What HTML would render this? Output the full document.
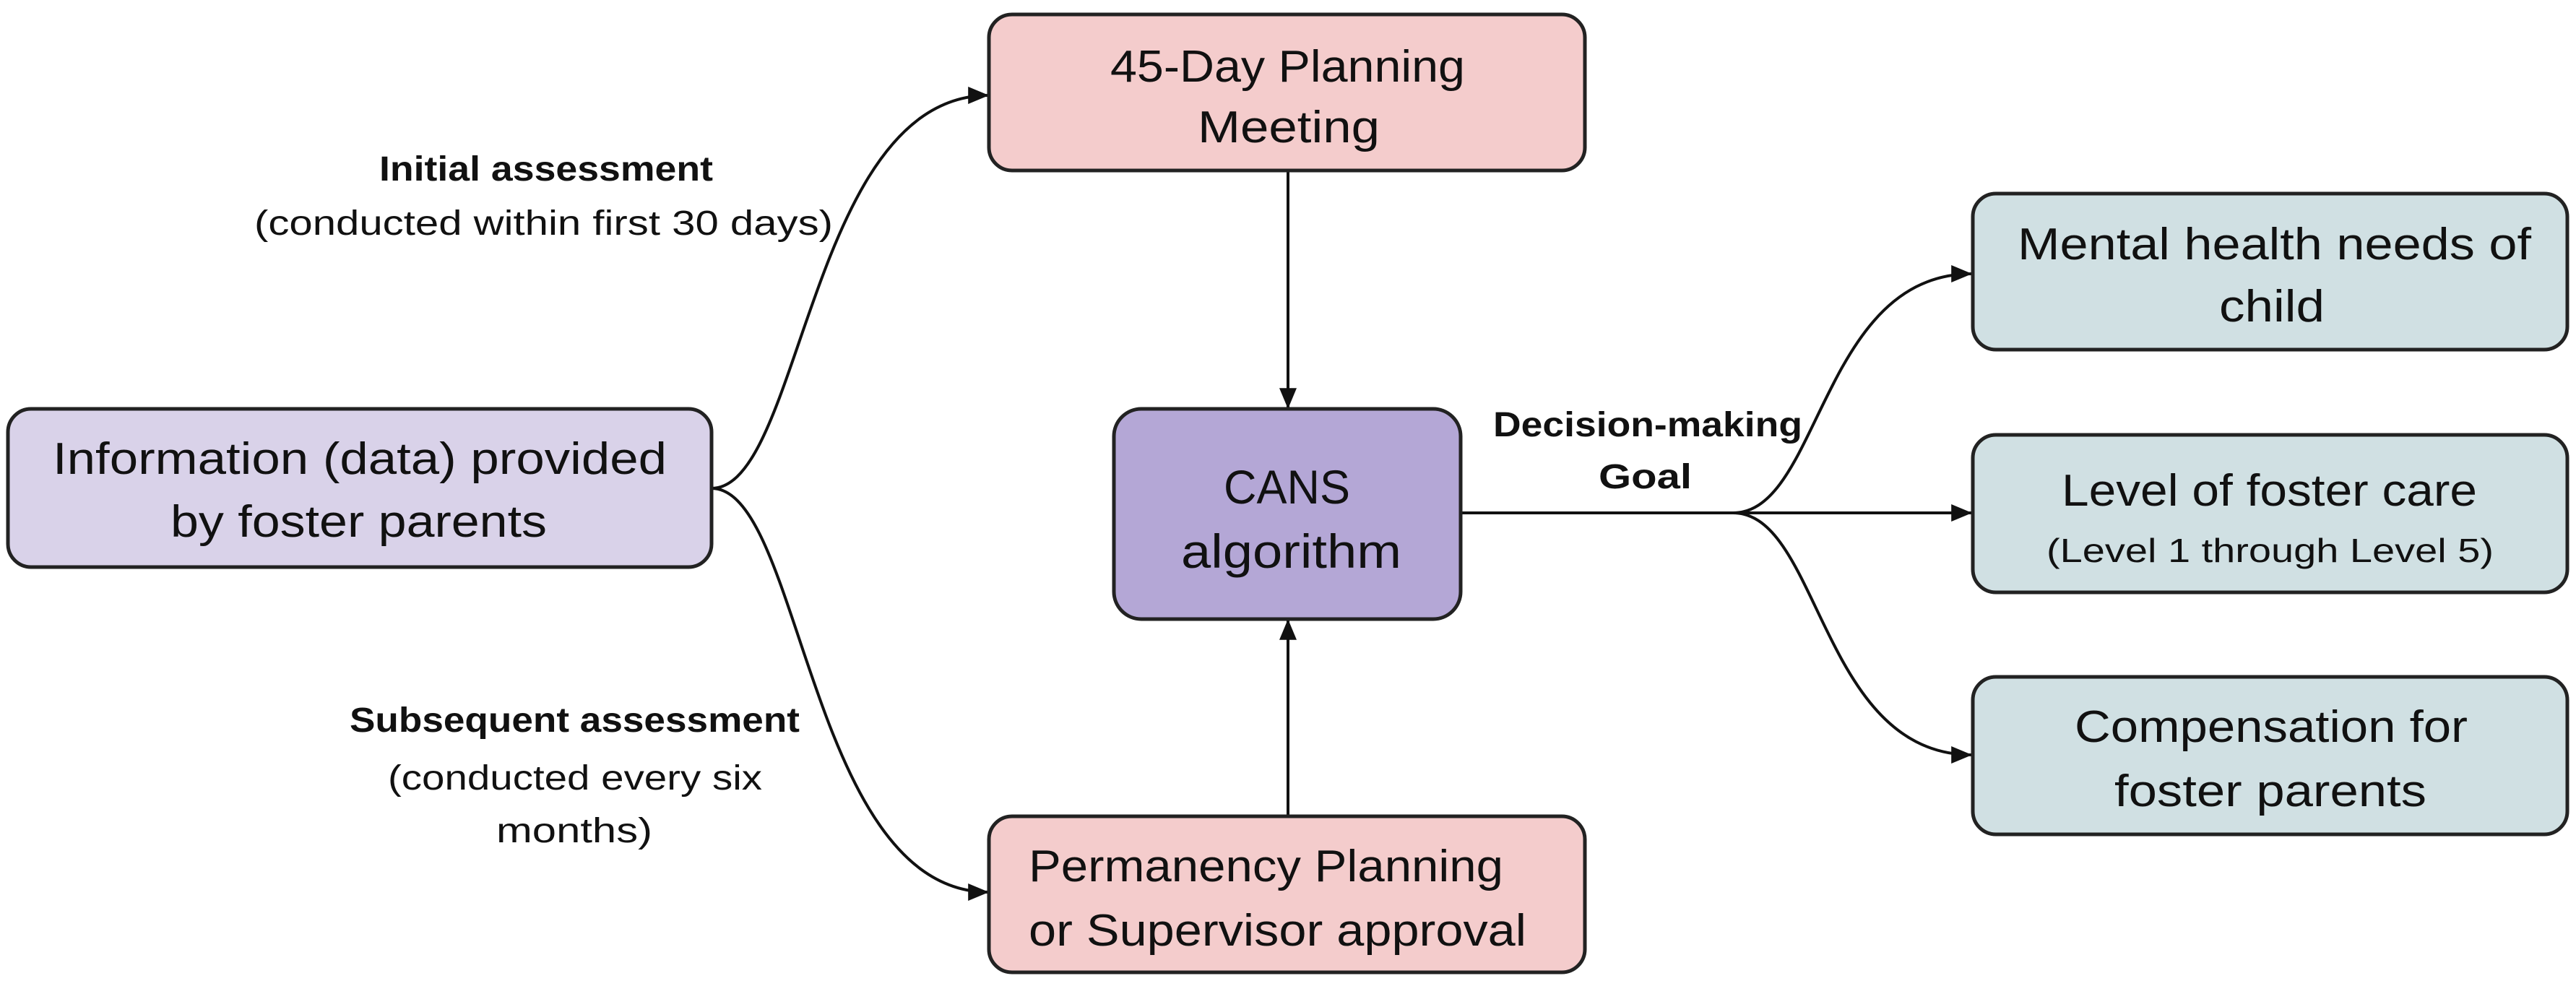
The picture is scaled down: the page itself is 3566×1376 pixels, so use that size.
<!DOCTYPE html>
<html><head><meta charset="utf-8"><style>
html,body{margin:0;padding:0;background:#fff;}
svg{display:block;}
text{font-family:"Liberation Sans",sans-serif;fill:#111;}
.b{font-weight:bold;}
</style></head><body>
<svg width="3566" height="1376" viewBox="0 0 3566 1376" xmlns="http://www.w3.org/2000/svg">
<defs>
<marker id="ar" markerWidth="10" markerHeight="10" refX="9" refY="5" orient="auto" markerUnits="userSpaceOnUse" viewBox="0 0 10 10">
</marker>
<marker id="a" viewBox="0 0 24 20" refX="24" refY="10" markerWidth="30" markerHeight="24" orient="auto" markerUnits="userSpaceOnUse">
<path d="M0,0 L24,10 L0,20 z" fill="#111"/>
</marker>
</defs>
<g fill="none" stroke="#111" stroke-width="4">
<path d="M985,676 C1110,676 1120,132 1369,132" marker-end="url(#a)"/>
<path d="M985,676 C1110,676 1120,1235 1369,1235" marker-end="url(#a)"/>
<path d="M1783,236 L1783,566" marker-end="url(#a)"/>
<path d="M1783,1130 L1783,857" marker-end="url(#a)"/>
<path d="M2022,710 L2730,710" marker-end="url(#a)"/>
<path d="M2399,710 C2520,710 2520,379 2730,379" marker-end="url(#a)"/>
<path d="M2399,710 C2520,710 2520,1045 2730,1045" marker-end="url(#a)"/>
</g>
<g stroke="#222" stroke-width="5">
<rect x="1369" y="20" width="825" height="216" rx="32" fill="#f4cccc"/>
<rect x="11" y="566" width="974" height="219" rx="32" fill="#d9d2e9"/>
<rect x="1542" y="566" width="480" height="291" rx="38" fill="#b4a7d6"/>
<rect x="1369" y="1130" width="825" height="216" rx="32" fill="#f4cccc"/>
<rect x="2731" y="268" width="823" height="216" rx="32" fill="#d0e0e3"/>
<rect x="2731" y="602" width="823" height="218" rx="32" fill="#d0e0e3"/>
<rect x="2731" y="937" width="823" height="218" rx="32" fill="#d0e0e3"/>
</g>
<g font-size="62" lengthAdjust="spacingAndGlyphs">
<text x="1537" y="113" textLength="491" lengthAdjust="spacingAndGlyphs">45-Day Planning</text>
<text x="1658" y="197" textLength="252" lengthAdjust="spacingAndGlyphs">Meeting</text>
<text x="73" y="656" textLength="850" lengthAdjust="spacingAndGlyphs">Information (data) provided</text>
<text x="236" y="743" textLength="521" lengthAdjust="spacingAndGlyphs">by foster parents</text>
<text x="1694" y="697" font-size="66" textLength="175" lengthAdjust="spacingAndGlyphs">CANS</text>
<text x="1635" y="786" font-size="66" textLength="305" lengthAdjust="spacingAndGlyphs">algorithm</text>
<text x="1424" y="1220" textLength="657" lengthAdjust="spacingAndGlyphs">Permanency Planning</text>
<text x="1424" y="1309" textLength="689" lengthAdjust="spacingAndGlyphs">or Supervisor approval</text>
<text x="2793" y="359" textLength="711" lengthAdjust="spacingAndGlyphs">Mental health needs of</text>
<text x="3072" y="445" textLength="146" lengthAdjust="spacingAndGlyphs">child</text>
<text x="2854" y="700" textLength="575" lengthAdjust="spacingAndGlyphs">Level of foster care</text>
<text x="2833" y="778" font-size="46" textLength="619" lengthAdjust="spacingAndGlyphs">(Level 1 through Level 5)</text>
<text x="2872" y="1027" textLength="544" lengthAdjust="spacingAndGlyphs">Compensation for</text>
<text x="2927" y="1116" textLength="432" lengthAdjust="spacingAndGlyphs">foster parents</text>
</g>
<g font-size="48">
<text class="b" x="525" y="250" textLength="462" lengthAdjust="spacingAndGlyphs">Initial assessment</text>
<text x="352" y="325" textLength="801" lengthAdjust="spacingAndGlyphs">(conducted within first 30 days)</text>
<text class="b" x="484" y="1013" textLength="623" lengthAdjust="spacingAndGlyphs">Subsequent assessment</text>
<text x="537" y="1093" textLength="518" lengthAdjust="spacingAndGlyphs">(conducted every six</text>
<text x="687" y="1166" textLength="216" lengthAdjust="spacingAndGlyphs">months)</text>
<text class="b" x="2067" y="604" textLength="428" lengthAdjust="spacingAndGlyphs">Decision-making</text>
<text class="b" x="2213" y="676" textLength="129" lengthAdjust="spacingAndGlyphs">Goal</text>
</g>
</svg>
</body></html>
